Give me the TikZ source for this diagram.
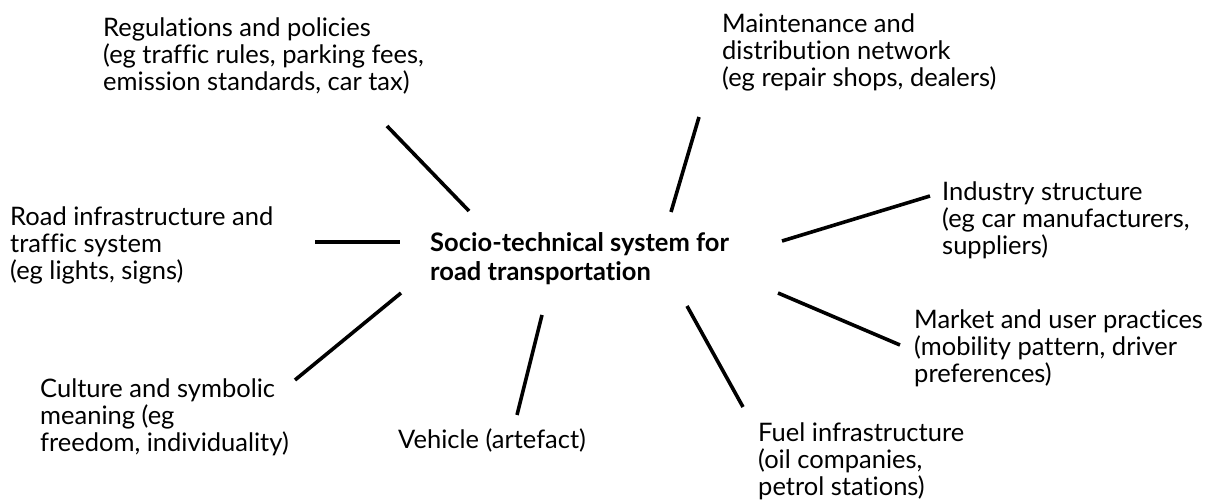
\documentclass[tikz,border=0pt]{standalone}
\usepackage{fontspec}
\setmainfont{Lato}[Ligatures=NoCommon]
\usetikzlibrary{positioning}

\tikzset{
  lbl/.style={anchor=base west, inner sep=0pt, align=left,
    font=\fontsize{25.5}{27}\selectfont},
  hub/.style={lbl, font=\fontsize{25.5}{29}\selectfont\bfseries},
  spoke/.style={line width=3.6pt}
}

\begin{document}
\begin{tikzpicture}[x=1pt,y=-1pt]
    \useasboundingbox [fill=white] (0,0) rectangle (1205,502);
    % centre (base = last line)
    \node [hub] (sys) at (430,281) {Socio-technical system for\\road transportation};
    % labels round it
    \node [lbl] (reg) at (103,91) {Regulations and policies\\(eg traffic rules, parking fees,\\emission standards, car tax)};
    \node [lbl] (maint) at (722,87) {Maintenance and\\distribution network\\(eg repair shops, dealers)};
    \node [lbl] (ind) at (942,255) {Industry structure\\(eg car manufacturers,\\suppliers)};
    \node [lbl] (road) at (10,280) {Road infrastructure and\\traffic system\\(eg lights, signs)};
    \node [lbl] (mkt) at (914,383) {Market and user practices\\(mobility pattern, driver\\preferences)};
    \node [lbl] (cult) at (40,451) {Culture and symbolic\\meaning (eg\\freedom, individuality)};
    \node [lbl] (veh) at (398,448) {Vehicle (artefact)};
    \node [lbl] (fuel) at (758,495) {Fuel infrastructure\\(oil companies,\\petrol stations)};
    % spoke ends
    \coordinate (reg-a) at (387,126);   \coordinate (reg-b) at (469,211);
    \coordinate (maint-a) at (699,117); \coordinate (maint-b) at (671,212);
    \coordinate (ind-a) at (930,196);   \coordinate (ind-b) at (782,241);
    \coordinate (road-a) at (315,242);  \coordinate (road-b) at (400,242);
    \coordinate (mkt-a) at (778,293);   \coordinate (mkt-b) at (900,345);
    \coordinate (cult-a) at (401,293);  \coordinate (cult-b) at (295,380);
    \coordinate (veh-a) at (542,315);   \coordinate (veh-b) at (517,415);
    \coordinate (fuel-a) at (687,306);  \coordinate (fuel-b) at (743,407);
    \foreach \s in {reg,maint,ind,road,mkt,cult,veh,fuel}
        \draw [spoke] (\s-a) -- (\s-b);
\end{tikzpicture}
\end{document}
